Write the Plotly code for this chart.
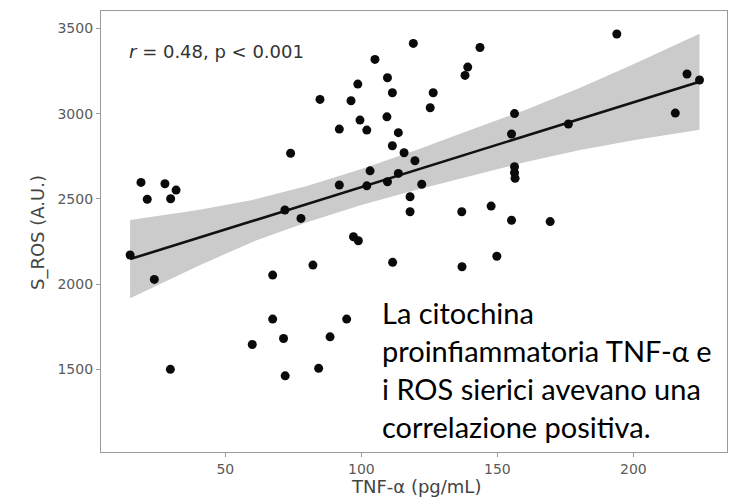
import plotly.graph_objects as go

# TNF-alpha (pg/mL) and serum ROS (A.U.) for each subject
tnf = [15.0, 19.0, 21.3, 23.9, 27.8, 31.9, 29.9, 29.8, 59.9, 67.4,
       67.4, 71.4, 72.0, 71.9, 74.0, 77.8, 82.2, 84.3, 84.8, 88.5,
       91.9, 91.9, 94.6, 96.2, 97.1, 98.9, 98.7, 99.5, 102.0, 102.0,
       103.2, 105.0, 109.6, 109.4, 109.6, 111.4, 111.4, 111.5, 113.6, 113.6,
       115.7, 117.9, 117.9, 119.1, 119.7, 122.2, 125.3, 126.4, 136.9, 137.0,
       138.1, 139.1, 143.6, 147.7, 149.8, 155.2, 155.2, 156.3, 156.3, 156.3,
       156.5, 169.4, 176.1, 193.9, 215.4, 219.7, 224.3]
ros = [2171, 2597, 2498, 2028, 2589, 2552, 2501, 1500, 1646, 2053,
       1795, 1681, 1462, 2435, 2768, 2386, 2112, 1506, 3084, 1691,
       2910, 2582, 1795, 3076, 2278, 2255, 3174, 2963, 2904, 2577,
       2665, 3319, 3211, 2982, 2601, 3123, 2812, 2128, 2889, 2650,
       2771, 2513, 2425, 3413, 2724, 2586, 3035, 3123, 2425, 2102,
       3225, 3274, 3389, 2458, 2164, 2881, 2375, 3001, 2689, 2654,
       2621, 2367, 2940, 3468, 3004, 3233, 3198]

# Linear fit and its 95% confidence band
fit_x = [15.0, 224.3]
fit_y = [2147, 3188]
band_x = [15.0, 40, 60, 80, 100, 120, 140, 160, 180, 200, 224.3]
band_hi = [2376, 2435, 2494, 2576, 2676, 2786, 2904, 3021, 3150, 3290, 3470]
band_lo = [1918, 2107, 2248, 2364, 2464, 2552, 2634, 2715, 2786, 2844, 2906]

x_ticks = [50, 100, 150, 200]
y_ticks = [1500, 2000, 2500, 3000, 3500]

stat_label = "<i>r</i> = 0.48, p < 0.001"
note_lines = ["La citochina",
              "proinfiammatoria TNF-α e",
              "i ROS sierici avevano una",
              "correlazione positiva."]

AXFONT = "DejaVu Sans, Liberation Sans, Arial"

fig = go.Figure()

fig.add_trace(go.Scatter(
    x=band_x + band_x[::-1], y=band_hi + band_lo[::-1],
    fill="toself", fillcolor="#cbcbcb", line=dict(width=0),
    mode="lines", hoverinfo="skip", showlegend=False))

fig.add_trace(go.Scatter(
    x=fit_x, y=fit_y, mode="lines",
    line=dict(color="#111111", width=2.6), showlegend=False))

fig.add_trace(go.Scatter(
    x=tnf, y=ros, mode="markers",
    marker=dict(color="#0a0a0a", size=9, line=dict(width=0)),
    showlegend=False))

W, H = 729, 504
ML, MR, MT, MB = 101, 2, 11, 52
pw, ph = W - ML - MR, H - MT - MB


def px(xp):
    return (xp - ML) / pw


def py(yp):
    return (H - MB - yp) / ph


annotations = [
    dict(text=stat_label, x=px(127), y=py(52), xref="paper", yref="paper",
         xanchor="left", yanchor="middle", showarrow=False,
         font=dict(family=AXFONT, size=18, color="#333333")),
    dict(text="TNF-α (pg/mL)", x=px(416), y=py(486), xref="paper", yref="paper",
         xanchor="center", yanchor="middle", showarrow=False,
         font=dict(family=AXFONT, size=18, color="#444444")),
    dict(text="S_ROS (A.U.)", x=px(38), y=py(233), xref="paper", yref="paper",
         xanchor="center", yanchor="middle", showarrow=False, textangle=-90,
         font=dict(family=AXFONT, size=18, color="#444444")),
]

line_centers = [312, 350, 388, 426]
for txt, yc in zip(note_lines, line_centers):
    annotations.append(dict(
        text=txt, x=px(380), y=py(yc), xref="paper", yref="paper",
        xanchor="left", yanchor="middle", showarrow=False,
        font=dict(family="Lato, Open Sans", size=29, color="#000000")))

fig.update_layout(
    width=W, height=H,
    margin=dict(l=ML, r=MR, t=MT, b=MB),
    paper_bgcolor="white", plot_bgcolor="white",
    annotations=annotations,
    xaxis=dict(range=[4.3, 234.4], tickvals=x_ticks, showgrid=False,
               zeroline=False, showline=True, mirror=True,
               linecolor="#9a9a9a", linewidth=1.2,
               ticks="outside", ticklen=4, tickcolor="#9a9a9a",
               tickfont=dict(family=AXFONT, size=14, color="#5a5a5a")),
    yaxis=dict(range=[1015, 3603], tickvals=y_ticks, showgrid=False,
               zeroline=False, showline=True, mirror=True,
               linecolor="#9a9a9a", linewidth=1.2,
               ticks="outside", ticklen=4, tickcolor="#9a9a9a",
               tickfont=dict(family=AXFONT, size=14, color="#5a5a5a")),
)

fig.write_html("out.html")
